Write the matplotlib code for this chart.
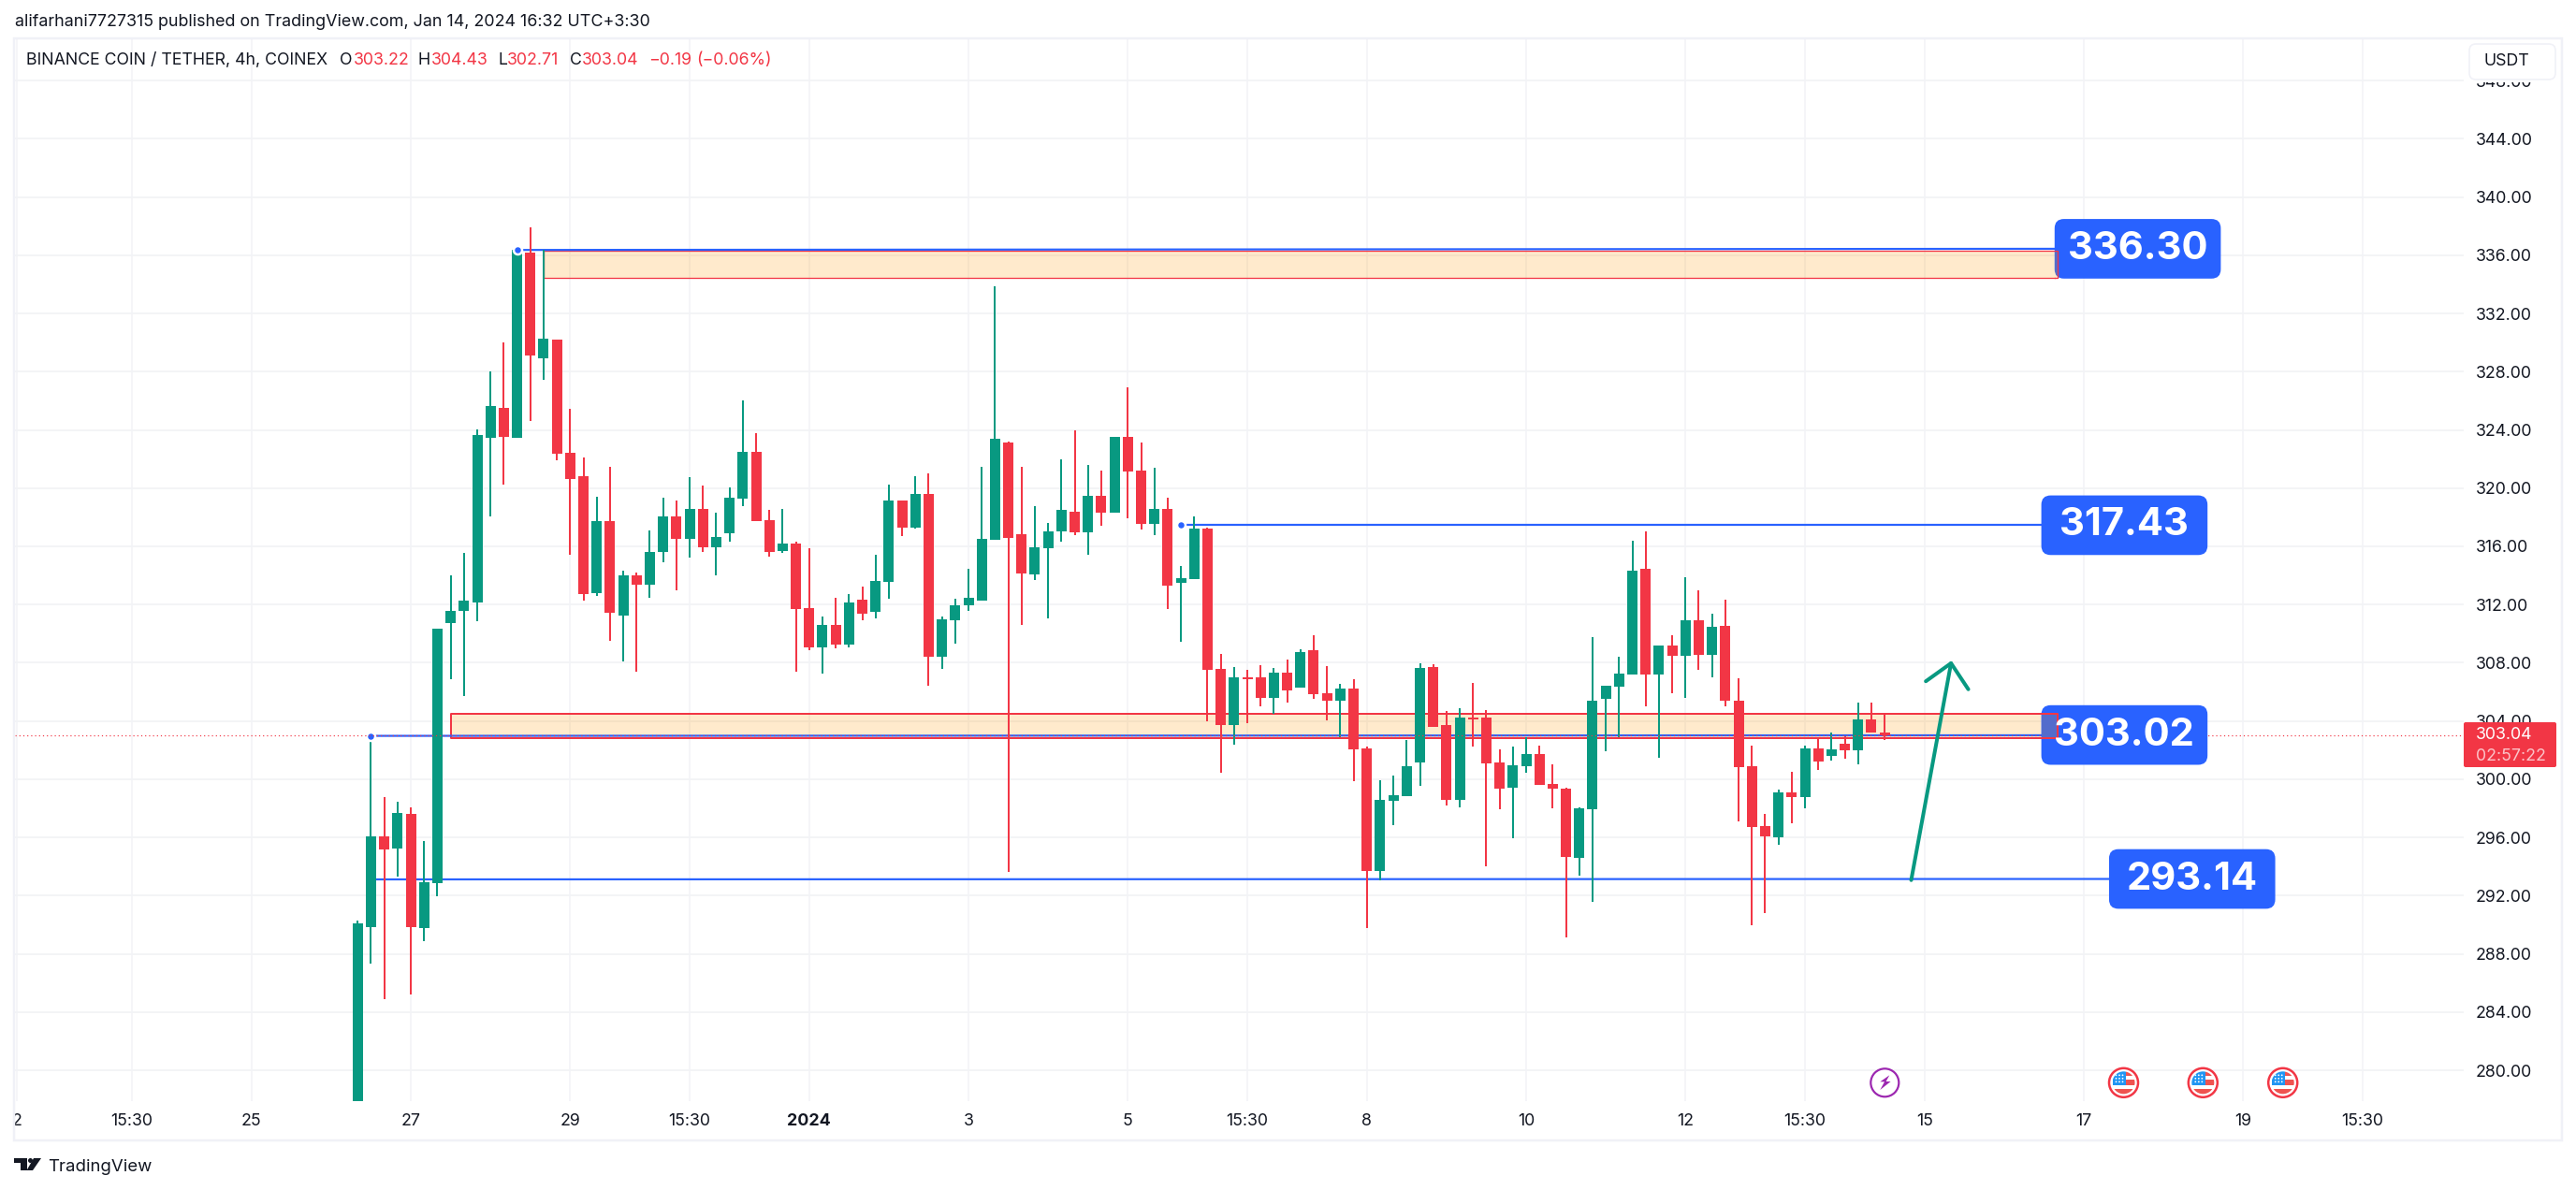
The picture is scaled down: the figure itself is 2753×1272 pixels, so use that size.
"""
BNB/USDT 4h candles with marked levels, TradingView style.
"""

import matplotlib
matplotlib.use("Agg")
import matplotlib.pyplot as plt
from matplotlib.patches import Rectangle, FancyBboxPatch, Circle, Polygon

# Candle data
opens = [276.00, 289.81, 296.08, 295.25, 297.62, 289.77, 292.84, 310.71, 311.54, 312.17,
         323.46, 325.51, 323.46, 336.16, 328.94, 330.20, 322.43, 320.81, 312.80, 317.74,
         311.27, 314.03, 313.36, 315.61, 318.05, 316.51, 318.60, 315.96, 316.87, 319.27,
         322.47, 317.78, 315.70, 316.22, 311.77, 309.07, 310.62, 309.22, 312.34, 311.51,
         313.58, 319.12, 317.31, 319.60, 308.44, 310.94, 311.97, 312.29, 316.48, 323.16,
         316.85, 314.04, 315.90, 317.05, 318.40, 316.99, 319.49, 318.34, 323.54, 321.21,
         317.57, 318.60, 313.52, 313.78, 317.25, 307.61, 303.74, 307.00, 307.01, 305.59,
         307.33, 306.30, 308.88, 305.91, 305.40, 306.24, 302.12, 293.68, 298.51, 298.83,
         301.15, 307.72, 303.73, 298.58, 304.26, 304.24, 301.15, 299.41, 300.89, 301.73,
         299.67, 299.35, 294.58, 297.93, 305.53, 306.36, 307.20, 314.48, 307.20, 309.20,
         308.49, 310.94, 308.55, 310.55, 305.40, 300.89, 296.77, 296.00, 299.09, 298.77,
         302.12, 301.60, 302.44, 301.99, 304.11, 303.22]
highs = [290.28, 302.94, 298.76, 298.45, 298.05, 295.76, 310.36, 313.99, 315.53, 324.05,
         328.03, 330.04, 336.47, 337.89, 336.36, 330.20, 325.47, 322.11, 319.39, 321.44,
         314.30, 314.19, 317.07, 319.31, 319.16, 320.73, 320.18, 318.29, 320.02, 326.02,
         323.77, 318.49, 318.60, 316.33, 315.90, 311.20, 312.49, 312.75, 313.26, 315.39,
         320.26, 319.12, 320.84, 321.04, 311.20, 312.43, 314.47, 321.47, 333.84, 323.22,
         321.47, 318.77, 317.62, 321.99, 323.94, 321.56, 321.21, 323.54, 326.95, 323.16,
         321.41, 319.37, 314.67, 318.08, 317.31, 308.62, 307.72, 307.52, 307.85, 307.65,
         308.23, 308.94, 309.91, 307.78, 306.56, 306.88, 302.24, 299.93, 300.25, 302.70,
         307.97, 307.91, 304.69, 304.88, 306.62, 304.76, 302.05, 302.24, 302.89, 302.31,
         301.02, 299.41, 298.06, 309.78, 306.43, 308.42, 316.41, 317.05, 309.20, 309.91,
         313.90, 313.00, 311.39, 312.35, 306.94, 302.31, 297.61, 299.28, 300.51, 302.31,
         302.89, 303.21, 302.95, 305.27, 305.27, 304.43]
lows = [275.00, 287.36, 284.92, 293.32, 285.23, 288.90, 291.94, 306.89, 305.74, 310.83,
        318.05, 320.22, 323.46, 324.60, 327.44, 321.92, 315.41, 312.25, 312.57, 309.53,
        308.11, 307.36, 312.49, 314.93, 313.00, 315.21, 315.61, 313.99, 316.32, 318.76,
        317.74, 315.29, 315.53, 307.41, 308.87, 307.27, 309.02, 309.07, 310.94, 311.08,
        312.43, 316.73, 317.25, 306.43, 307.61, 309.33, 311.57, 312.29, 316.48, 293.66,
        310.62, 313.69, 311.08, 316.33, 316.79, 315.44, 317.42, 318.34, 317.94, 317.16,
        316.79, 311.71, 309.47, 313.78, 303.99, 300.47, 302.39, 303.88, 305.01, 304.52,
        305.27, 306.30, 305.53, 304.05, 302.87, 299.86, 289.76, 293.04, 296.84, 298.83,
        299.54, 303.60, 298.19, 298.06, 302.24, 294.00, 297.93, 295.94, 300.44, 299.61,
        298.00, 289.11, 293.36, 291.56, 301.92, 302.87, 307.20, 305.01, 301.47, 305.91,
        305.59, 307.52, 307.01, 305.01, 297.09, 289.95, 290.79, 295.48, 296.97, 298.00,
        300.64, 301.28, 301.41, 301.02, 303.21, 302.71]
closes = [290.08, 296.08, 295.17, 297.70, 289.81, 292.92, 310.32, 311.58, 312.29, 323.65,
          325.63, 323.53, 336.36, 329.14, 330.28, 322.35, 320.62, 312.69, 317.74, 311.46,
          314.03, 313.36, 315.64, 318.05, 316.51, 318.60, 315.96, 316.67, 319.31, 322.47,
          317.74, 315.64, 316.16, 311.71, 309.07, 310.62, 309.27, 312.17, 311.40, 313.64,
          319.17, 317.31, 319.60, 308.44, 311.00, 311.97, 312.49, 316.53, 323.42, 316.59,
          314.15, 315.96, 317.05, 318.51, 316.99, 319.49, 318.34, 323.54, 321.15, 317.57,
          318.60, 313.32, 313.84, 317.25, 307.52, 303.74, 307.01, 306.87, 305.59, 307.33,
          306.11, 308.75, 305.85, 305.40, 306.24, 302.05, 293.68, 298.58, 298.90, 300.89,
          307.65, 303.60, 298.58, 304.24, 304.13, 301.09, 299.35, 300.96, 301.73, 299.61,
          299.35, 294.65, 298.00, 305.40, 306.43, 307.27, 314.35, 307.20, 309.20, 308.49,
          310.94, 308.55, 310.48, 305.40, 300.83, 296.71, 296.06, 299.09, 298.77, 302.12,
          301.21, 302.05, 301.99, 304.11, 303.21, 303.04]

# Axis ticks
price_ticks = list(range(280, 352, 4))
time_tick_pos = [-25.67, -17, -8, 4, 16, 25, 34, 46, 58, 67, 76, 88, 100, 109, 118, 130, 142, 151]
time_tick_labels = ["2", "15:30", "25", "27", "29", "15:30", "2024", "3", "5", "15:30",
                    "8", "10", "12", "15:30", "15", "17", "19", "15:30"]

# Drawings: (start candle, start price, end candle, end price)
level_lines = [(12, 336.36, 127.8, 336.44),
               (62, 317.45, 126.8, 317.45),
               (1, 302.98, 126.8, 303.02),
               (1, 293.12, 131.9, 293.15)]
level_anchors = [(12, 336.36), (62, 317.45), (1, 302.98)]
# (left candle, right candle, bottom price, top price, part hidden over the label starts here)
zones = [(14, 128.06, 334.44, 336.30, 127.8),
         (7.05, 128.06, 302.84, 304.50, 126.8)]
zone_edge_px = [1.3, 2.0]
# (label text, box left in candles, centre price)
level_labels = [("336.30", 127.8, 336.44),
                ("317.43", 126.8, 317.45),
                ("303.02", 126.8, 303.04),
                ("293.14", 131.9, 293.15)]
arrow_x = [117, 120]
arrow_y = [293.07, 307.97]
arrow_head_x = [118.1, 120, 121.3]
arrow_head_y = [306.73, 307.97, 306.18]
last_price = 303.04

header_parts = [(27.5, "BINANCE COIN / TETHER, 4h, COINEX", "dark"),
                (363, "O", "dark"), (378, "303.22", "red"),
                (447, "H", "dark"), (461, "304.43", "red"),
                (532, "L", "dark"), (542, "302.71", "red"),
                (609, "C", "dark"), (622, "303.04", "red"),
                (693, "\u22120.19", "red"), (744, "(\u22120.06%)", "red")]

# Colours
GREEN = "#089981"
RED = "#F23645"
BLUE = "#2962FF"
DARK = "#131722"
GRID = "#F2F3F6"
FRAME = "#F0F1F7"
ZONE = (1.0, 0.596, 0.0, 0.2)

W, H = 2753, 1272
PANE_L, PANE_R, PANE_T, PANE_B = 15.5, 2633, 41, 1177
PX_X = 14.19  # pixels per candle
PX_Y = 15.56  # pixels per price unit

plt.rcParams["font.family"] = ["Inter", "DejaVu Sans"]
px = 72 / 100  # one pixel in points at dpi 100

fig = plt.figure(figsize=(W / 100, H / 100), dpi=100, facecolor="white")
ax = fig.add_axes([PANE_L / W, 1 - PANE_B / H, (PANE_R - PANE_L) / W, (PANE_B - PANE_T) / H])
ax.set_xlim((PANE_L - 382.3) / PX_X, (PANE_R - 382.3) / PX_X)
ax.set_ylim(344 - (PANE_B - 148.3) / PX_Y, 344 + (148.3 - PANE_T) / PX_Y)
for spine in ax.spines.values():
    spine.set_visible(False)

# Grid and ticks
ax.set_axisbelow(True)
ax.grid(True, axis="y", color=GRID, linewidth=1.8 * px)
ax.grid(True, axis="x", color=GRID, linewidth=1.5 * px)
ax.yaxis.tick_right()
ax.set_yticks(price_ticks, [f"{p:.2f}" for p in price_ticks])
ax.set_xticks(time_tick_pos, time_tick_labels)
ax.tick_params(axis="y", length=0, pad=13 * px, labelsize=12.8, labelcolor=DARK)
ax.tick_params(axis="x", length=0, pad=13 * px, labelsize=12.8, labelcolor=DARK)
for label in ax.get_xticklabels():
    if label.get_text() == "2024":
        label.set_fontweight("bold")

# Zones sit under the candles
for (left, right, bottom, top, over), edge in zip(zones, zone_edge_px):
    ax.add_patch(Rectangle((left, bottom), over - left, top - bottom, facecolor=ZONE,
                           edgecolor="none", zorder=1.5))
    ax.plot([over, left, left, over], [top, top, bottom, bottom], color=RED,
            linewidth=edge * px, zorder=1.6)

# Candles
xs = list(range(len(opens)))
colors = [GREEN if c >= o else RED for o, c in zip(opens, closes)]
ax.vlines(xs, lows, highs, colors=colors, linewidth=2 * px, zorder=3)
ax.bar(xs, [abs(c - o) for o, c in zip(opens, closes)], bottom=[min(o, c) for o, c in zip(opens, closes)],
       width=11 / PX_X, color=colors, linewidth=0, zorder=3.1)

# Level lines and anchors
for x0, y0, x1, y1 in level_lines:
    ax.plot([x0, x1], [y0, y1], color=BLUE, linewidth=2.2 * px, zorder=2.5)
for x0, y0 in level_anchors:
    ax.plot(x0, y0, "o", color=BLUE, markersize=9 * px, markeredgecolor="white",
            markeredgewidth=2.5 * px, zorder=3.5)

# Last price line
ax.axhline(last_price, color=RED, linewidth=1.2 * px, linestyle=(0, (1, 2.5)), zorder=4)

# Arrow
ax.plot(arrow_x, arrow_y, color=GREEN, linewidth=4 * px, solid_capstyle="round", zorder=5)
ax.plot(arrow_head_x, arrow_head_y, color=GREEN, linewidth=4 * px, solid_capstyle="round",
        solid_joinstyle="round", zorder=5)

# Level labels
box_w = 177.6 / PX_X
box_h = 63.7 / PX_Y
for text, left, centre in level_labels:
    ax.add_patch(FancyBboxPatch((left, centre - box_h / 2), box_w, box_h,
                                boxstyle="round,pad=0,rounding_size=0.7", mutation_aspect=PX_X / PX_Y,
                                facecolor=BLUE, edgecolor="none", zorder=4.5))
    ax.text(left + box_w / 2, centre, text, color="white", fontsize=30, fontweight="bold",
            ha="center", va="center", zorder=6)

# The end of each zone shows through over its label
for (left, right, bottom, top, over), edge in zip(zones, zone_edge_px):
    ax.add_patch(Rectangle((over, bottom), right - over, top - bottom, facecolor=ZONE,
                           edgecolor="none", zorder=4.6))
    ax.plot([over, right, right, over], [top, top, bottom, bottom], color=RED,
            linewidth=edge * px, zorder=4.7)

# Overlay in pixel coordinates for the page furniture
ui = fig.add_axes([0, 0, 1, 1], facecolor="none")
ui.set_xlim(0, W)
ui.set_ylim(H, 0)
ui.axis("off")

# Frame
ui.add_patch(Rectangle((15, 41), 2738 - 15, 1219 - 41, fill=False, edgecolor=FRAME, linewidth=2.5 * px))

ui.text(16, 24, "alifarhani7727315 published on TradingView.com, Jan 14, 2024 16:32 UTC+3:30",
        color=DARK, fontsize=12.9, va="center")
for x, text, tone in header_parts:
    ui.text(x, 64.5, text, color=RED if tone == "red" else DARK, fontsize=12.8, va="center")

# USDT button covers the top price label
ui.add_patch(Rectangle((2636, 43), 100, 44.5, facecolor="white", edgecolor="none"))
ui.add_patch(FancyBboxPatch((2639, 47), 92, 38, boxstyle="round,pad=0,rounding_size=7",
                            facecolor="white", edgecolor=FRAME, linewidth=1.6 * px))
ui.text(2654, 65.7, "USDT", color=DARK, fontsize=12.8, va="center")

# Last price tag
ui.add_patch(FancyBboxPatch((2633, 772), 99, 48, boxstyle="round,pad=0,rounding_size=2",
                            facecolor=RED, edgecolor="none"))
ui.text(2646, 785, "303.04", color="white", fontsize=12.8, va="center")
ui.text(2646, 808.5, "02:57:22", color="#FBC3C8", fontsize=12.8, va="center")

# Event icons
cx, cy = 2014.3, 1157.3
ui.add_patch(Circle((cx, cy), 15, facecolor="white", edgecolor="#9C27B0", linewidth=2.2 * px))
ui.add_patch(Polygon([(cx + 5, cy - 8), (cx - 5, cy - 1), (cx - 0.3, cy - 1), (cx - 5, cy + 7.7),
                      (cx + 6.3, cy - 1.3), (cx + 1.3, cy - 1.3)], closed=True,
                     facecolor="#9C27B0", edgecolor="none"))
for cx in (2269.5, 2354.3, 2439.7):
    ui.add_patch(Circle((cx, cy), 15.5, facecolor="white", edgecolor=RED, linewidth=2.5 * px))
    clip = Circle((cx, cy), 12, transform=ui.transData)
    for x0, y0, w, h, color in [(cx - 12, cy - 12, 14.3, 14.6, "#2196F3"),
                                (cx + 2.3, cy - 12, 10, 4.7, "#EF5350"),
                                (cx + 2.3, cy - 3, 10, 5.6, "#EF5350"),
                                (cx - 12, cy + 6.7, 24, 6, "#EF5350")]:
        part = Rectangle((x0, y0), w, h, facecolor=color, edgecolor="none")
        ui.add_patch(part)
        part.set_clip_path(clip)
    for dx in (-8, -4.5, -1):
        for dy in (-8, -4.5, -1):
            ui.add_patch(Circle((cx + dx, cy + dy), 0.9, facecolor="white", edgecolor="none"))

# TradingView logo
ui.add_patch(Polygon([(15, 1238), (29, 1238), (29, 1251), (22, 1251), (22, 1243), (15, 1243)],
                     closed=True, facecolor=DARK, edgecolor="none"))
ui.add_patch(Circle((32.5, 1240.5), 2.5, facecolor=DARK, edgecolor="none"))
ui.add_patch(Polygon([(36, 1238), (44, 1238), (35, 1251), (28.5, 1251)], closed=True,
                     facecolor=DARK, edgecolor="none"))
ui.text(51.5, 1247, "TradingView", color=DARK, fontsize=13.4, va="center")

fig.savefig("out.png", dpi=100)
